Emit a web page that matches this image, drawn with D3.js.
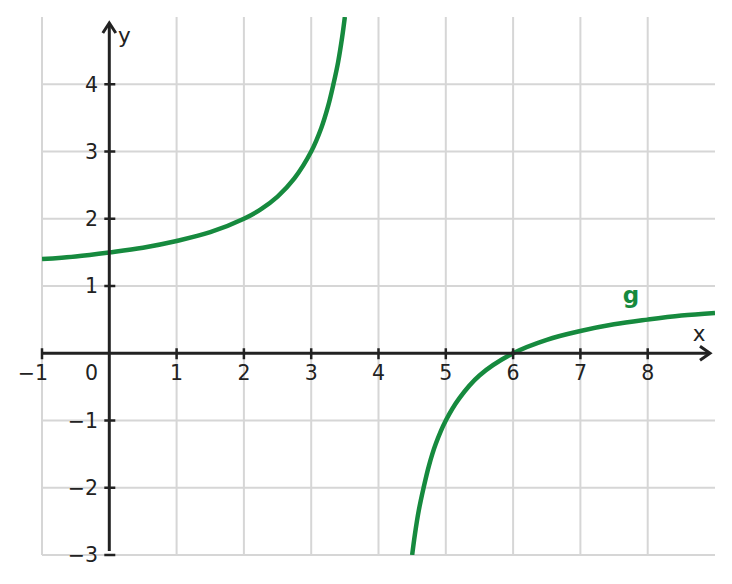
<!DOCTYPE html>
<html><head><meta charset="utf-8">
<script src="https://cdn.jsdelivr.net/npm/d3@7"></script>
<style>body{margin:0;background:#fff}svg{display:block}text{font-family:"DejaVu Sans",sans-serif}</style>
</head><body>
<svg id="c" width="732" height="584"></svg>
<script>
const xTicks = [-1,0,1,2,3,4,5,6,7,8];
const yTicks = [-3,-2,-1,0,1,2,3,4];
const xTickLabels = ["−1","0","1","2","3","4","5","6","7","8"];
const yTickLabels = ["−3","−2","−1","0","1","2","3","4"];
// g, left branch
const branch1 = [[-1,1.4],[-0.5,1.44],[0,1.5],[0.5,1.57],[1,1.67],[1.5,1.8],[2,2],[2.25,2.14],[2.5,2.33],[2.75,2.6],[3,3],[3.15,3.35],[3.25,3.67],[3.33,4],[3.4,4.33],[3.46,4.7],[3.5,5]];
// g, right branch
const branch2 = [[4.5,-3],[4.54,-2.7],[4.6,-2.33],[4.67,-2],[4.75,-1.67],[4.85,-1.35],[5,-1],[5.2,-0.67],[5.5,-0.33],[6,0],[6.5,0.2],[7,0.33],[7.5,0.43],[8,0.5],[8.5,0.56],[9,0.6]];
const funcLabel = "g";

const svg = d3.select("#c");
const x = d3.scaleLinear().domain([-1,9]).range([42,715]);
const y = d3.scaleLinear().domain([-3,5]).range([555,17]);
const grid = "#d6d6d6", axc = "#222", green = "#168a3e";

// grid
svg.append("g").selectAll("line").data(xTicks.filter(d=>d!==0)).join("line")
  .attr("x1",d=>x(d)).attr("x2",d=>x(d)).attr("y1",y(5)).attr("y2",y(-3))
  .attr("stroke",grid).attr("stroke-width",2);
svg.append("g").selectAll("line").data(yTicks.filter(d=>d!==0)).join("line")
  .attr("x1",x(-1)).attr("x2",x(9)).attr("y1",d=>y(d)).attr("y2",d=>y(d))
  .attr("stroke",grid).attr("stroke-width",2);

// curve
svg.append("clipPath").attr("id","cp").append("rect")
  .attr("x",x(-1)).attr("y",y(5)).attr("width",x(9)-x(-1)).attr("height",y(-3)-y(5));
const line = d3.line().x(d=>x(d[0])).y(d=>y(d[1])).curve(d3.curveCatmullRom.alpha(0.5));
const cg = svg.append("g").attr("clip-path","url(#cp)");
[branch1,branch2].forEach(b=>cg.append("path").attr("d",line(b)).attr("fill","none")
  .attr("stroke",green).attr("stroke-width",4.5).attr("stroke-linecap","butt"));

// axes
svg.append("line").attr("x1",x(-1)).attr("x2",709).attr("y1",y(0)).attr("y2",y(0))
  .attr("stroke",axc).attr("stroke-width",3);
svg.append("line").attr("x1",x(0)).attr("x2",x(0)).attr("y1",551).attr("y2",24)
  .attr("stroke",axc).attr("stroke-width",3);
// arrows
svg.append("path").attr("d",`M${700},${y(0)-7}L${710},${y(0)}L${700},${y(0)+7}`)
  .attr("fill","none").attr("stroke",axc).attr("stroke-width",3);
svg.append("path").attr("d",`M${x(0)-6.5},33L${x(0)},23L${x(0)+6.5},33`)
  .attr("fill","none").attr("stroke",axc).attr("stroke-width",3);

// ticks
svg.append("g").selectAll("line").data(xTicks.filter(d=>d!==0)).join("line")
  .attr("x1",d=>x(d)).attr("x2",d=>x(d)).attr("y1",y(0)-5).attr("y2",y(0)+6)
  .attr("stroke",axc).attr("stroke-width",2.5);
svg.append("g").selectAll("line").data(yTicks.filter(d=>d!==0)).join("line")
  .attr("x1",x(0)-5).attr("x2",x(0)+6).attr("y1",d=>y(d)).attr("y2",d=>y(d))
  .attr("stroke",axc).attr("stroke-width",2.5);

// tick labels
svg.append("g").selectAll("text").data(xTicks).join("text")
  .attr("x",(d)=> d===0 ? 98 : (d<0 ? x(d)+6 : x(d)))
  .attr("y",380)
  .attr("text-anchor",d=> d<=0 ? "end" : "middle")
  .attr("font-size",20.5).attr("fill",axc)
  .text((d,i)=>xTickLabels[i]);
svg.append("g").selectAll("text").data(yTicks.filter(d=>d!==0)).join("text")
  .attr("x",98).attr("y",d=>y(d)).attr("dy","0.36em")
  .attr("text-anchor","end").attr("font-size",20.5).attr("fill",axc)
  .text(d=>yTickLabels[yTicks.indexOf(d)]);

// axis names
svg.append("text").attr("x",699).attr("y",341).attr("text-anchor","middle")
  .attr("font-size",21.5).attr("fill",axc).text("x");
svg.append("text").attr("x",118).attr("y",43).attr("font-size",21.5).attr("fill",axc).text("y");
svg.append("text").attr("x",631).attr("y",303).attr("text-anchor","middle")
  .attr("font-size",23).attr("font-weight","bold").attr("fill",green).text(funcLabel);
</script>
</body></html>
